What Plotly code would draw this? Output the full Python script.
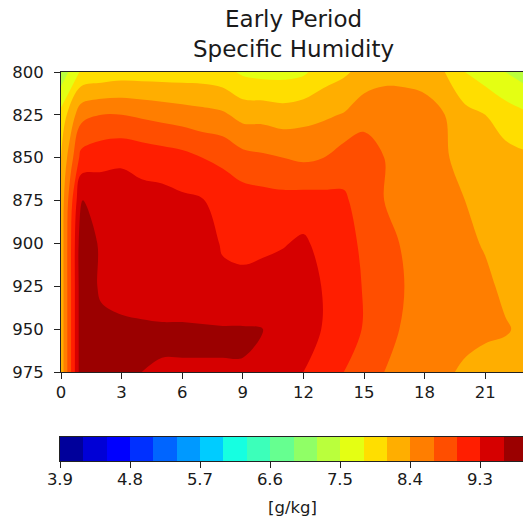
import plotly.graph_objects as go

# ---------------- data ----------------
hours = list(range(24))
pressure = [800, 825, 850, 875, 900, 925, 950, 975]

q_800 = [7.3, 7.85, 7.9, 7.95, 7.95, 7.95, 7.95, 7.95, 7.9, 7.75, 7.7, 7.7, 7.75, 7.95, 8.05, 8.2, 8.3, 8.3, 8.25, 8.1, 7.8, 7.65, 7.5, 7.35]
q_825 = [7.9, 8.6, 8.7, 8.7, 8.65, 8.6, 8.55, 8.5, 8.45, 8.3, 8.3, 8.25, 8.3, 8.35, 8.42, 8.6, 8.6, 8.58, 8.55, 8.4, 8.2, 8.1, 7.95, 7.85]
q_850 = [8.1, 9.1, 9.2, 9.25, 9.2, 9.15, 9.1, 9.0, 8.95, 8.8, 8.75, 8.7, 8.65, 8.7, 8.85, 8.85, 8.7, 8.55, 8.5, 8.43, 8.3, 8.25, 8.2, 8.15]
q_875 = [8.2, 9.62, 9.5, 9.45, 9.4, 9.4, 9.35, 9.32, 9.15, 9.15, 9.12, 9.1, 9.12, 9.1, 9.05, 8.85, 8.7, 8.55, 8.5, 8.5, 8.4, 8.3, 8.25, 8.2]
q_900 = [8.2, 9.8, 9.55, 9.5, 9.48, 9.48, 9.45, 9.4, 9.28, 9.25, 9.25, 9.28, 9.35, 9.2, 9.1, 8.95, 8.85, 8.65, 8.55, 8.5, 8.45, 8.38, 8.3, 8.25]
q_925 = [8.2, 9.8, 9.55, 9.5, 9.5, 9.5, 9.5, 9.45, 9.35, 9.35, 9.4, 9.45, 9.45, 9.28, 9.15, 8.98, 8.85, 8.7, 8.55, 8.5, 8.45, 8.45, 8.35, 8.3]
q_950 = [8.2, 9.8, 9.68, 9.65, 9.63, 9.62, 9.62, 9.62, 9.62, 9.62, 9.6, 9.45, 9.45, 9.28, 9.15, 8.98, 8.85, 8.65, 8.55, 8.5, 8.5, 8.45, 8.42, 8.35]
q_975 = [8.2, 9.8, 9.7, 9.65, 9.6, 9.59, 9.59, 9.59, 9.59, 9.59, 9.57, 9.45, 9.3, 9.2, 9.0, 8.85, 8.7, 8.6, 8.55, 8.45, 8.35, 8.3, 8.3, 8.25]

levels = [3.9, 4.2, 4.5, 4.8, 5.1, 5.4, 5.7, 6.0, 6.3, 6.6, 6.9, 7.2, 7.5, 7.8,
          8.1, 8.4, 8.7, 9.0, 9.3, 9.6, 9.9]
x_ticks = [0, 3, 6, 9, 12, 15, 18, 21]
y_ticks = [800, 825, 850, 875, 900, 925, 950, 975]
cb_ticks = [3.9, 4.8, 5.7, 6.6, 7.5, 8.4, 9.3]

title_text = "Early Period<br>Specific Humidity"
cb_label = "[g/kg]"

# ---------------- styling ----------------
W, H = 523, 521
FONT = "DejaVu Sans"
TXT = "#1a1a1a"
TICK_SIZE = 16.5


def jet(t):
    idx = min(int(t * 256), 255)
    t = idx / 255.0

    def seg(pts):
        for (x0, y0), (x1, y1) in zip(pts[:-1], pts[1:]):
            if x0 <= t <= x1:
                return y0 + (y1 - y0) * (t - x0) / (x1 - x0) if x1 > x0 else y1
        return pts[-1][1]

    r = seg([(0, 0), (0.35, 0), (0.66, 1), (0.89, 1), (1, 0.5)])
    g = seg([(0, 0), (0.125, 0), (0.375, 1), (0.64, 1), (0.91, 0), (1, 0)])
    b = seg([(0, 0.5), (0.11, 1), (0.34, 1), (0.65, 0), (1, 0)])
    return "rgb(%d,%d,%d)" % (round(r * 255), round(g * 255), round(b * 255))


nb = len(levels) - 1
band_colors = [jet((i + 0.5) / nb) for i in range(nb)]
cscale = []
for i, c in enumerate(band_colors):
    cscale.append([i / nb, c])
    cscale.append([(i + 1) / nb, c])

zmin, zmax = levels[0], levels[-1]
step = round(levels[1] - levels[0], 6)

z = [q_800, q_825, q_850, q_875, q_900, q_925, q_950, q_975]

fig = go.Figure()
fig.add_trace(go.Contour(
    x=hours, y=pressure, z=z,
    zmin=zmin, zmax=zmax, colorscale=cscale,
    contours=dict(start=zmin, end=zmax, size=step, coloring="fill", showlines=False),
    line=dict(width=0), showscale=False, hoverinfo="skip",
    xaxis="x", yaxis="y",
))

centers = [round((a + b) / 2, 4) for a, b in zip(levels[:-1], levels[1:])]
fig.add_trace(go.Heatmap(
    x=centers, y=[0], z=[centers],
    zmin=zmin, zmax=zmax, colorscale=cscale, showscale=False,
    hoverinfo="skip", xaxis="x2", yaxis="y2",
))

# pixel geometry
px_x0, px_xr = 61.0, 20.2          # plot x=0 position and px per hour
plot_top, plot_bot = 72, 372
cb_x0, cb_pxu = 60.0, 70.0 / 0.9  # colorbar left and px per g/kg
cb_top, cb_bot = 437, 461

x_max = (W - px_x0) / px_xr
cb_max = zmin + (W - cb_x0) / cb_pxu

axis_common = dict(
    showgrid=False, zeroline=False, showline=True, linecolor="#222",
    linewidth=1, ticks="outside", ticklen=6, tickcolor="#222", tickwidth=1,
    tickfont=dict(family=FONT, size=TICK_SIZE, color=TXT), automargin=False,
)

fig.update_layout(
    width=W, height=H,
    margin=dict(l=0, r=0, t=0, b=0, pad=0, autoexpand=False),
    paper_bgcolor="white", plot_bgcolor="white",
    showlegend=False,
    xaxis=dict(domain=[px_x0 / W, 1], range=[0, x_max], tickvals=x_ticks,
               mirror=True, anchor="y", ticklabelstandoff=-1, **axis_common),
    yaxis=dict(domain=[1 - plot_bot / H, 1 - plot_top / H], range=[975, 800],
               tickvals=y_ticks, mirror=False, anchor="x", ticklabelstandoff=7,
               **axis_common),
    xaxis2=dict(domain=[cb_x0 / W, 1], range=[zmin, cb_max], tickvals=cb_ticks,
                ticktext=[str(v) for v in cb_ticks], ticklabelstandoff=-3,
                mirror=True, anchor="y2", **axis_common),
    yaxis2=dict(domain=[1 - cb_bot / H, 1 - cb_top / H], range=[-0.5, 0.5],
                showticklabels=False, ticks="", mirror=True, anchor="x2",
                showgrid=False, zeroline=False, showline=True, linecolor="#222",
                linewidth=1, automargin=False),
)

fig.add_annotation(text=title_text, x=293.5 / W, y=1 - 34 / H, xref="paper", yref="paper",
                   showarrow=False, font=dict(family=FONT, size=23, color=TXT),
                   xanchor="center", yanchor="middle", align="center")
fig.add_annotation(text=cb_label, x=292 / W, y=1 - 507 / H, xref="paper", yref="paper",
                   showarrow=False, font=dict(family=FONT, size=TICK_SIZE, color=TXT),
                   xanchor="center", yanchor="middle")

fig.write_html("out.html",
               config={"displayModeBar": False, "staticPlot": True},
               post_script="document.body.style.margin='0';document.body.style.overflow='hidden';")
